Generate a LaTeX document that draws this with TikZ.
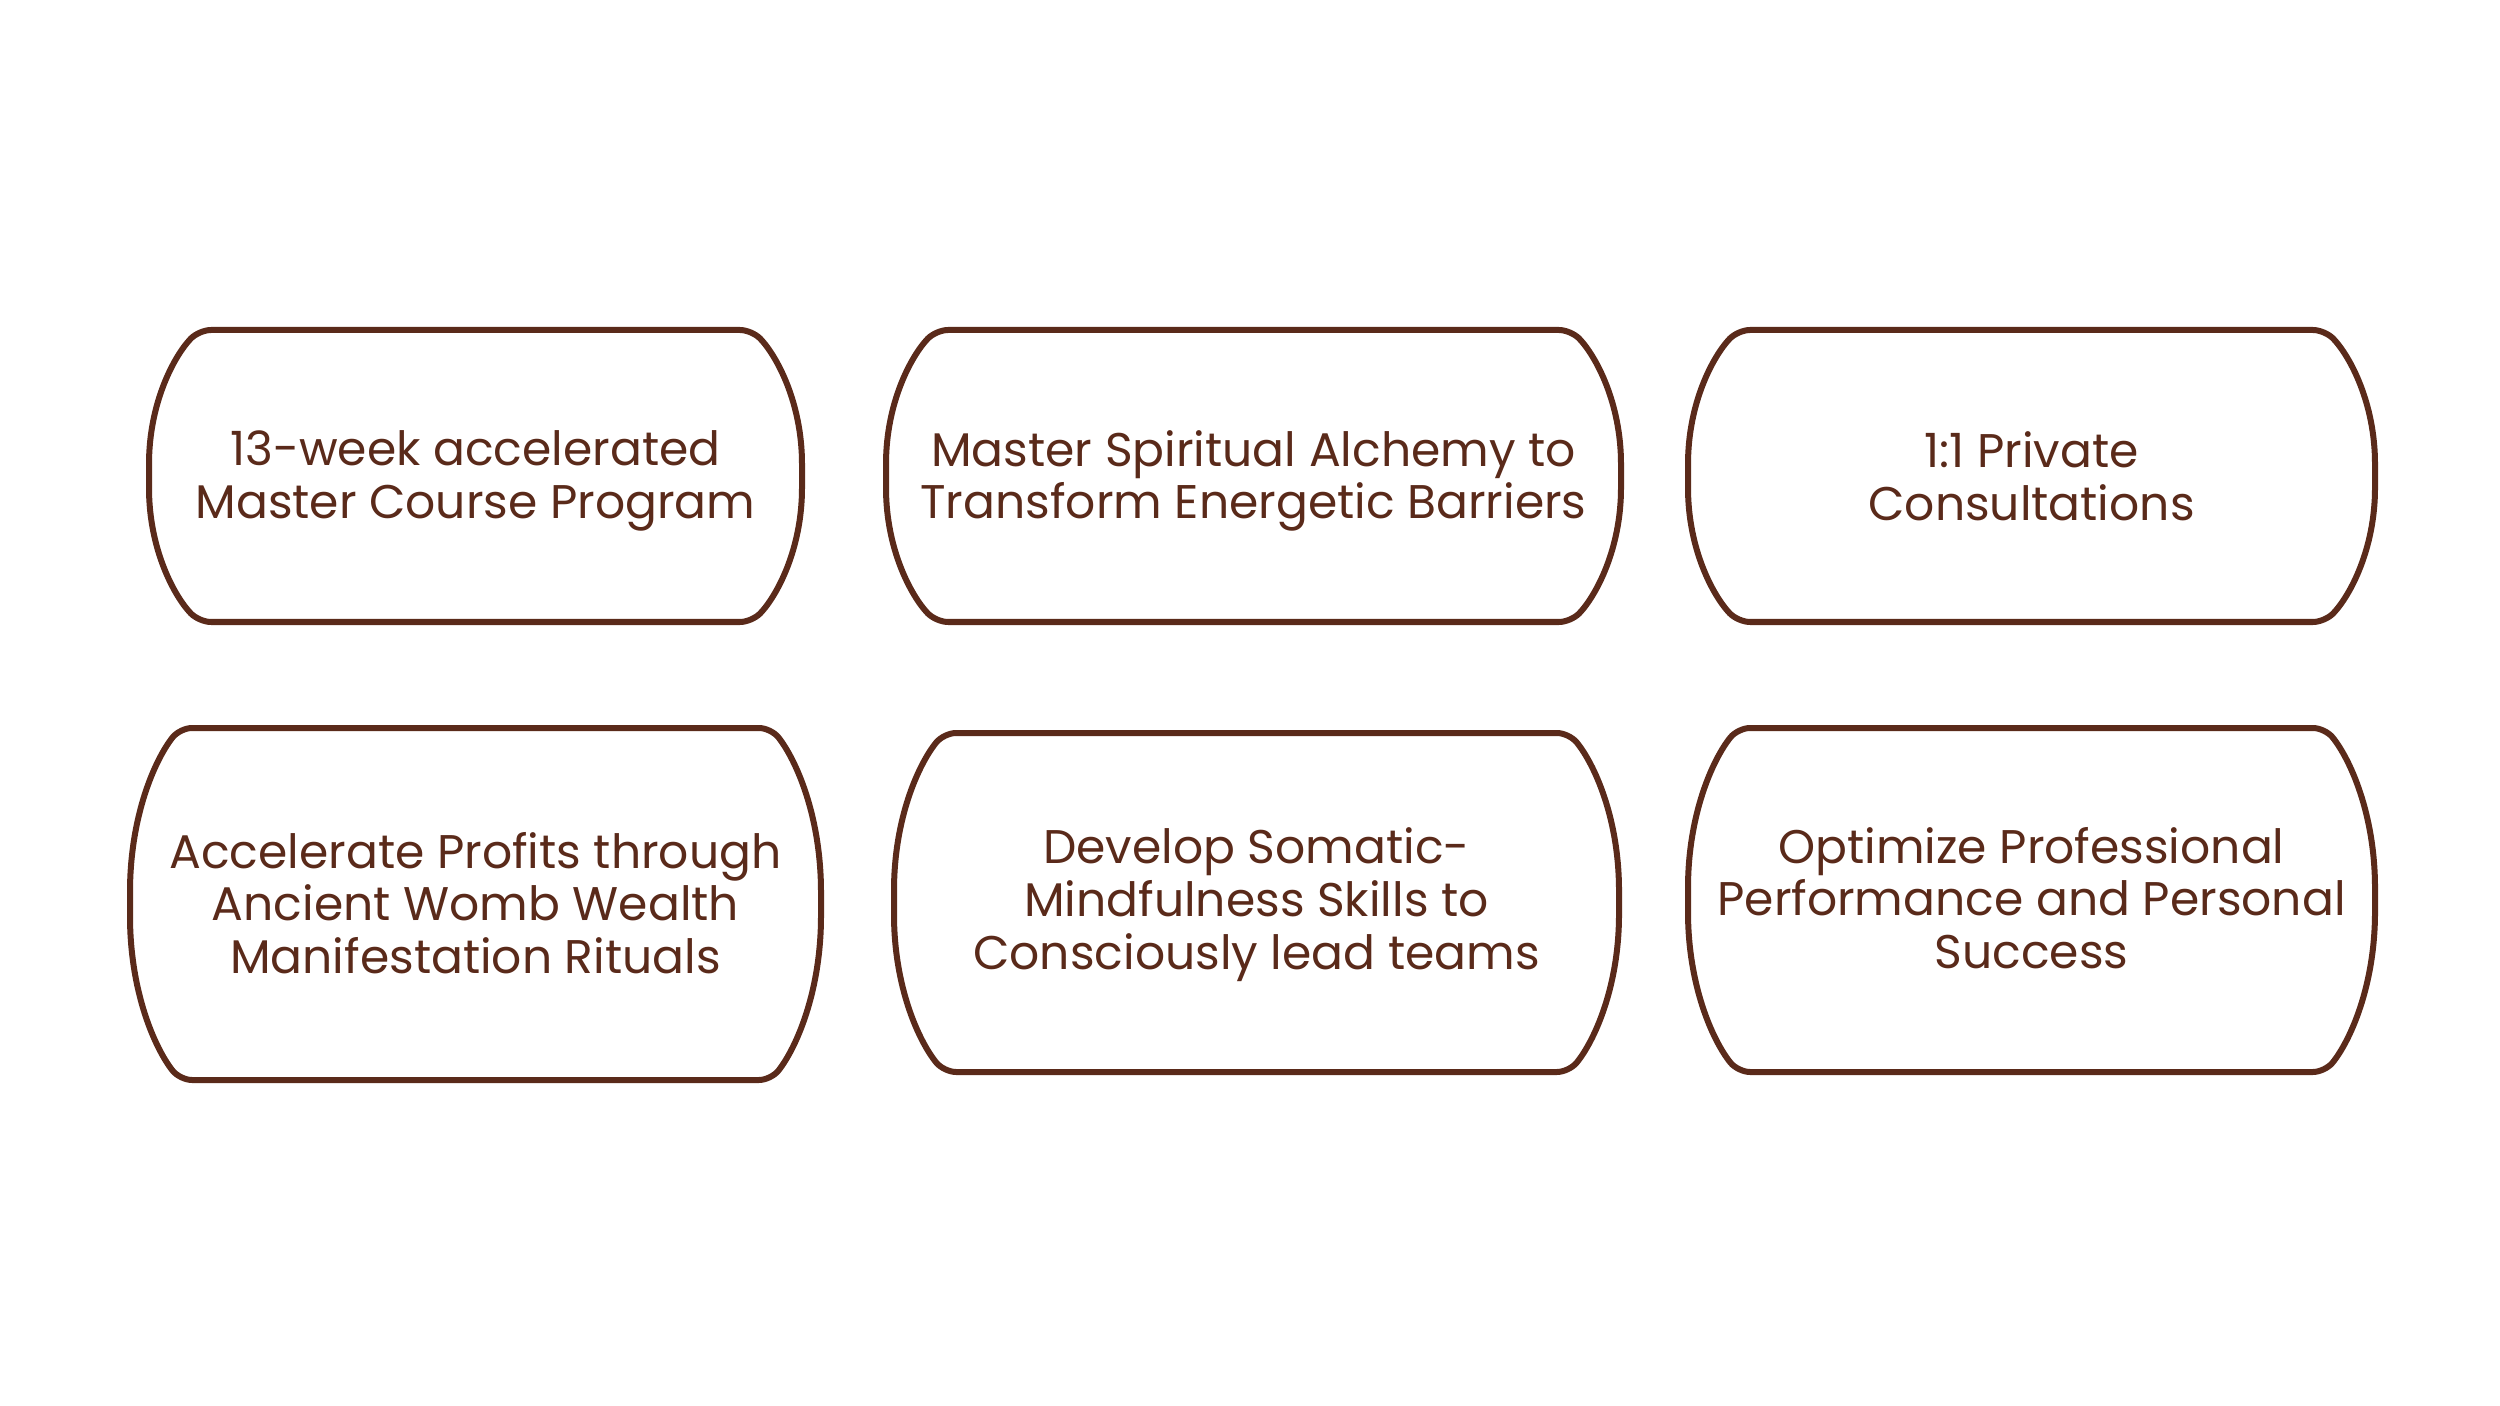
\documentclass[tikz,border=0pt]{standalone}
\usepackage{fontspec}
\setmainfont{Poppins}
\definecolor{brn}{RGB}{90,42,26}
\newcommand{\capsule}[7]{%
  % #1 name, #2 L, #3 T, #4 R, #5 B, #6 text y offset, #7 text
  \pgfmathsetmacro{\cL}{#2}\pgfmathsetmacro{\cT}{#3}%
  \pgfmathsetmacro{\cR}{#4}\pgfmathsetmacro{\cB}{#5}%
  \pgfmathsetmacro{\cM}{(#3+#5)/2}\pgfmathsetmacro{\cH}{(#5-#3)/2}%
  \pgfmathsetmacro{\cC}{(#2+#4)/2}%
  \pgfmathsetmacro{\cd}{50}%
  \draw[boxline]
    (\cC,\cT) -- (\cR-\cd,\cT)
    .. controls (\cR-0.5*\cd,\cT+0.18*\cH) and (\cR,\cM-0.5*\cH) .. (\cR,\cM)
    .. controls (\cR,\cM+0.5*\cH) and (\cR-0.5*\cd,\cB-0.18*\cH) .. (\cR-\cd,\cB)
    -- (\cL+\cd,\cB)
    .. controls (\cL+0.5*\cd,\cB-0.18*\cH) and (\cL,\cM+0.5*\cH) .. (\cL,\cM)
    .. controls (\cL,\cM-0.5*\cH) and (\cL+0.5*\cd,\cT+0.18*\cH) .. (\cL+\cd,\cT)
    -- cycle;
  \node[boxtext] (#1) at (\cC,\cM+#6) {#7};
}
\tikzset{
  boxline/.style={draw=brn, line width=3pt, rounded corners=6pt, line join=round},
  boxtext/.style={text=brn, align=center, font=\fontsize{23.6}{26.4}\selectfont, inner sep=0pt}
}
\begin{document}
\begin{tikzpicture}[x=0.5pt,y=-0.5pt]
\useasboundingbox (0,0) rectangle (2500,1406);
\fill[white] (0,0) rectangle (2500,1406);
\capsule{b1}{149}{330}{802}{622}{5}{13-week accelerated\\Master Course Program}
\capsule{b2}{886}{330}{1621}{622}{5}{Master Spiritual Alchemy to\\Transform Energetic Barriers}
\capsule{b3}{1688}{330}{2375}{622}{0}{1:1 Private\\Consultations}
\capsule{b4}{130}{728}{821}{1080}{-1}{Accelerate Profits through\\Ancient Womb Wealth\\Manifestation Rituals}
\capsule{b5}{894}{733}{1619}{1072}{2}{Develop Somatic-\\Mindfulness Skills to\\Consciously lead teams}
\capsule{b6}{1688}{728}{2375}{1072}{-2}{Optimize Professional\\Performance and Personal\\Success}
\end{tikzpicture}
\end{document}
